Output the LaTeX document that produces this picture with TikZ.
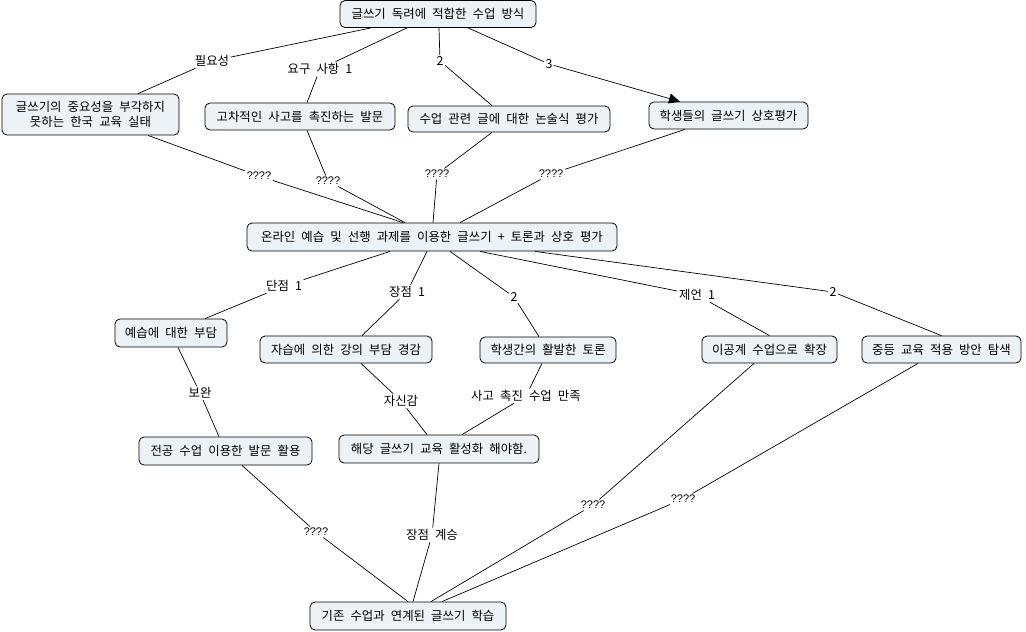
\documentclass[tikz,border=0pt]{standalone}
\usepackage{fontspec}
\newfontfamily\kr[WordSpace=2.2]{Noto Sans CJK KR}
\newfontfamily\qfont{Liberation Sans}
\usetikzlibrary{arrows.meta}
\definecolor{boxfill}{RGB}{236,242,245}
\tikzset{
  concept/.style={draw=black, line width=0.8pt, fill=boxfill, rounded corners=5pt,
    inner sep=0pt, align=center, font=\kr\fontsize{12.4}{15}\selectfont},
  lab/.style={inner sep=1.5pt, font=\kr\fontsize{12.4}{15}\selectfont},
  qlab/.style={inner sep=1.5pt, font=\qfont\fontsize{11}{13}\selectfont},
  link/.style={draw=black, line width=0.7pt},
}
\begin{document}
\begin{tikzpicture}[x=1pt,y=-1pt]
\useasboundingbox (0,0) rectangle (1026,632);
% concepts
\node[concept, minimum width=196pt, minimum height=27pt] (top) at (438,14) {글쓰기 독려에 적합한 수업 방식};
\node[concept, minimum width=177pt, minimum height=41pt] (A) at (90.5,114.5) {글쓰기의 중요성을 부각하지\\못하는 한국 교육 실태};
\node[concept, minimum width=190pt, minimum height=27pt] (B) at (300,116.5) {고차적인 사고를 촉진하는 발문};
\node[concept, minimum width=202pt, minimum height=26pt] (C) at (509,119) {수업 관련 글에 대한 논술식 평가};
\node[concept, minimum width=159pt, minimum height=27pt] (D) at (728.5,115.5) {학생들의 글쓰기 상호평가};
\node[concept, minimum width=370pt, minimum height=28pt] (E) at (432,237) {온라인 예습 및 선행 과제를 이용한 글쓰기 + 토론과 상호 평가};
\node[concept, minimum width=112pt, minimum height=28pt] (F) at (171,333) {예습에 대한 부담};
\node[concept, minimum width=172pt, minimum height=27pt] (G) at (346,349.5) {자습에 의한 강의 부담 경감};
\node[concept, minimum width=136pt, minimum height=26pt] (H) at (548,350) {학생간의 활발한 토론};
\node[concept, minimum width=135pt, minimum height=27pt] (I) at (769.5,349.5) {이공계 수업으로 확장};
\node[concept, minimum width=159pt, minimum height=27pt] (J) at (941.5,349.5) {중등 교육 적용 방안 탐색};
\node[concept, minimum width=173pt, minimum height=28pt] (K) at (225.5,451) {전공 수업 이용한 발문 활용};
\node[concept, minimum width=200pt, minimum height=28pt] (L) at (439,449) {해당 글쓰기 교육 활성화 해야함.};
\node[concept, minimum width=196pt, minimum height=28pt] (M) at (408,616) {기존 수업과 연계된 글쓰기 학습};
% link labels
\node[lab] (l1) at (212,61) {필요성};
\node[lab] (l2) at (320,69) {요구 사항 1};
\node[lab] (l3) at (440,61) {2};
\node[lab] (l4) at (549,64) {3};
\node[qlab] (l5) at (259,176) {????};
\node[qlab] (l6) at (328,181) {????};
\node[qlab] (l7) at (437,174) {????};
\node[qlab] (l8) at (551,174) {????};
\node[lab] (l9) at (284,286) {단점 1};
\node[lab] (l10) at (407,292) {장점 1};
\node[lab] (l11) at (514,297) {2};
\node[lab] (l12) at (697,295) {제언 1};
\node[lab] (l13) at (833,292) {2};
\node[lab] (l14) at (200,393) {보완};
\node[lab] (l15) at (401,401) {자신감};
\node[lab] (l16) at (526,396) {사고 촉진 수업 만족};
\node[qlab] (l17) at (316,532) {????};
\node[lab] (l18) at (432,535) {장점 계승};
\node[qlab] (l19) at (593,505) {????};
\node[qlab] (l20) at (683,499) {????};
% connectors
\draw[link] ([xshift=-67pt]top.south) -- (l1) -- ([xshift=47.5pt]A.north);
\draw[link] ([xshift=-31pt]top.south) -- (l2) -- ([xshift=7pt]B.north);
\draw[link] ([xshift=1pt]top.south) -- (l3) -- ([xshift=-17pt]C.north);
\draw[link] ([xshift=30pt]top.south) -- (l4);
\draw[link, -{Triangle[length=11pt,width=10pt]}] (l4) -- ([xshift=-48.5pt]D.north);
\draw[link] ([xshift=57.5pt]A.south) -- (l5) -- ([xshift=-29pt]E.north);
\draw[link] ([xshift=7pt]B.south) -- (l6) -- ([xshift=-27pt]E.north);
\draw[link] ([xshift=-17pt]C.south) -- (l7) -- ([xshift=1pt]E.north);
\draw[link] ([xshift=-43.5pt]D.south) -- (l8) -- ([xshift=28pt]E.north);
\draw[link] ([xshift=-42pt]E.south) -- (l9) -- ([xshift=34pt]F.north);
\draw[link] ([xshift=-5pt]E.south) -- (l10) -- ([xshift=16pt]G.north);
\draw[link] ([xshift=18pt]E.south) -- (l11) -- ([xshift=-9pt]H.north);
\draw[link] ([xshift=48pt]E.south) -- (l12) -- (I.north);
\draw[link] ([xshift=103pt]E.south) -- (l13) -- (J.north);
\draw[link] ([xshift=7pt]F.south) -- (l14) -- ([xshift=-6.5pt]K.north);
\draw[link] ([xshift=15pt]G.south) -- (l15) -- ([xshift=-12pt]L.north);
\draw[link] ([xshift=-6pt]H.south) -- (l16) -- ([xshift=23pt]L.north);
\draw[link] ([xshift=16.5pt]K.south) -- (l17) -- (M.north);
\draw[link] (L.south) -- (l18) -- ([xshift=5pt]M.north);
\draw[link] ([xshift=-15.5pt]I.south) -- (l19) -- ([xshift=23pt]M.north);
\draw[link] ([xshift=-23.5pt]J.south) -- (l20) -- ([xshift=34pt]M.north);
\end{tikzpicture}
\end{document}
